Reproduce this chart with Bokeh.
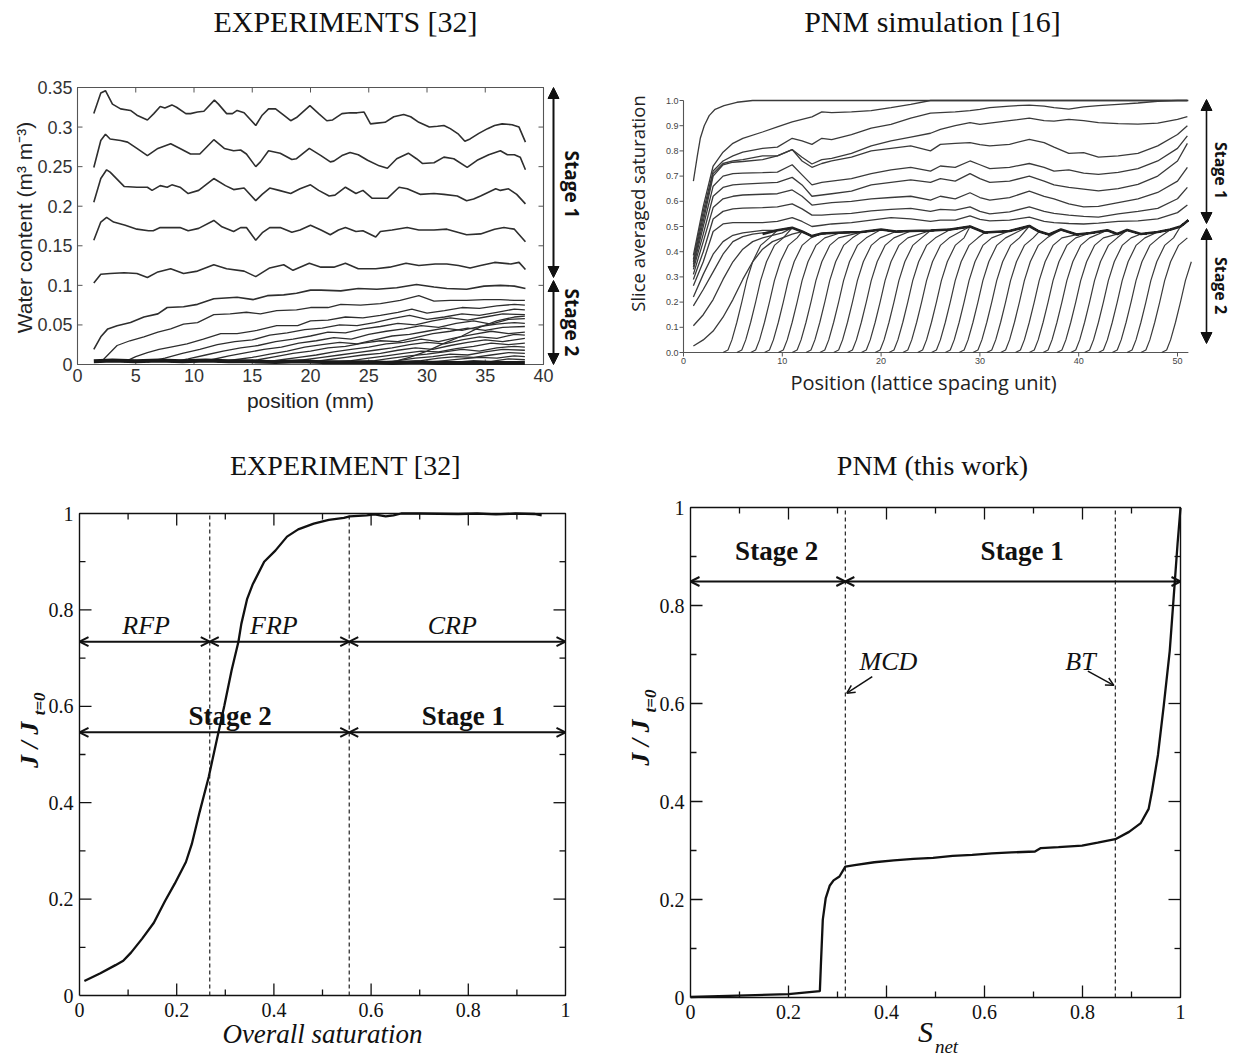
from math import pi
from bokeh.plotting import figure
from bokeh.models import Range1d, Arrow, NormalHead, OpenHead
from bokeh.core.properties import value
from bokeh.layouts import column, row
from bokeh.embed import file_html
from bokeh.resources import INLINE

# ======================= DATA =======================
# --- top-left: water content profiles (experiment) ---
TL_XTICKS = [0, 5, 10, 15, 20, 25, 30, 35, 40]
TL_YTICKS = [0, 0.05, 0.1, 0.15, 0.2, 0.25, 0.3, 0.35]

TL_A_X = [1.4, 2.0, 2.4, 3.0, 3.7, 4.55, 5.1, 6.0, 6.55, 7.1, 7.5, 8.1, 8.5, 9.3, 9.7, 10.3, 10.85, 11.75, 12.1, 12.8,
          13.3, 13.7, 14.3, 15.3, 15.85, 16.4, 17.0, 17.7, 18.3, 18.8, 19.95, 20.7, 21.4, 21.9, 22.7, 23.4, 24.0, 24.6, 25.15, 25.7,
          26.4, 27.15, 28.0, 28.6, 29.3, 30.2, 30.9, 31.45, 32.0, 32.7, 33.25, 33.7, 34.45, 35.2, 35.8, 36.45, 37.3, 37.9, 38.45]
TL_A_Y = [0.317, 0.343, 0.346, 0.329, 0.323, 0.321, 0.315, 0.309, 0.317, 0.326, 0.324, 0.328, 0.325, 0.317, 0.317, 0.319, 0.320, 0.334, 0.329, 0.317,
          0.317, 0.321, 0.318, 0.302, 0.315, 0.323, 0.323, 0.315, 0.308, 0.312, 0.327, 0.317, 0.308, 0.309, 0.317, 0.318, 0.318, 0.319, 0.304, 0.305,
          0.306, 0.313, 0.316, 0.313, 0.306, 0.300, 0.301, 0.302, 0.298, 0.291, 0.282, 0.285, 0.292, 0.298, 0.302, 0.304, 0.303, 0.300, 0.281]
TL_B_X = [1.4, 2.0, 2.4, 2.8, 3.7, 4.3, 5.1, 6.0, 6.9, 8.0, 8.8, 9.7, 10.5, 11.7, 12.6, 13.4, 14.0, 14.5, 15.3, 15.7,
          16.4, 17.4, 18.4, 18.8, 19.9, 20.9, 21.7, 22.0, 22.7, 23.4, 24.1, 24.9, 25.9, 26.6, 27.4, 28.4, 29.1, 29.6, 30.6, 31.45,
          32.3, 33.45, 34.3, 35.3, 36.3, 36.9, 37.5, 38.0, 38.45]
TL_B_Y = [0.249, 0.283, 0.291, 0.285, 0.283, 0.281, 0.273, 0.264, 0.273, 0.279, 0.273, 0.266, 0.266, 0.284, 0.273, 0.270, 0.271, 0.266, 0.250, 0.256,
          0.270, 0.267, 0.259, 0.260, 0.273, 0.264, 0.256, 0.257, 0.264, 0.268, 0.265, 0.258, 0.251, 0.248, 0.260, 0.267, 0.260, 0.254, 0.255, 0.262,
          0.260, 0.249, 0.258, 0.265, 0.270, 0.265, 0.265, 0.262, 0.246]
TL_C_X = [1.4, 2.0, 2.5, 2.8, 4.0, 5.1, 6.0, 6.4, 7.1, 7.7, 8.1, 8.8, 9.5, 10.4, 11.7, 12.7, 13.4, 14.3, 15.3, 15.85,
          16.5, 17.3, 18.3, 19.1, 20.0, 20.7, 21.6, 22.1, 23.0, 23.9, 24.5, 25.3, 26.6, 27.6, 28.3, 29.4, 30.6, 31.45, 32.6, 33.4,
          34.0, 34.6, 35.9, 36.3, 37.0, 37.7, 38.45]
TL_C_Y = [0.205, 0.235, 0.246, 0.243, 0.225, 0.224, 0.224, 0.220, 0.226, 0.224, 0.227, 0.224, 0.216, 0.220, 0.235, 0.226, 0.221, 0.223, 0.207, 0.215,
          0.223, 0.220, 0.216, 0.222, 0.227, 0.220, 0.213, 0.214, 0.224, 0.216, 0.220, 0.210, 0.210, 0.224, 0.222, 0.215, 0.216, 0.215, 0.213, 0.207,
          0.209, 0.213, 0.222, 0.220, 0.222, 0.215, 0.203]
TL_D_X = [1.4, 2.0, 2.5, 3.1, 4.1, 5.1, 6.1, 6.5, 7.1, 8.0, 8.8, 9.5, 10.4, 11.7, 12.4, 13.4, 14.0, 14.5, 15.3, 15.9,
          16.5, 17.4, 18.4, 19.1, 20.0, 20.9, 21.7, 22.4, 23.0, 23.9, 24.5, 25.6, 26.0, 27.0, 28.3, 29.3, 30.6, 31.7, 33.4, 34.6,
          35.8, 36.6, 37.5, 38.45]
TL_D_Y = [0.157, 0.180, 0.186, 0.180, 0.176, 0.171, 0.169, 0.169, 0.173, 0.173, 0.173, 0.169, 0.172, 0.182, 0.174, 0.168, 0.173, 0.173, 0.157, 0.167,
          0.173, 0.173, 0.167, 0.170, 0.176, 0.170, 0.164, 0.170, 0.173, 0.168, 0.169, 0.161, 0.168, 0.170, 0.173, 0.170, 0.170, 0.171, 0.164, 0.165,
          0.171, 0.173, 0.171, 0.155]
TL_E_X = [1.4, 2.0, 2.8, 4.0, 5.1, 6.0, 6.9, 8.0, 9.1, 10.3, 11.7, 12.8, 14.3, 15.3, 16.5, 17.7, 18.5, 19.9, 20.9, 22.0,
          23.0, 24.1, 25.6, 26.8, 28.2, 29.3, 30.7, 31.7, 32.7, 33.7, 34.6, 35.8, 37.2, 37.9, 38.45]
TL_E_Y = [0.103, 0.114, 0.115, 0.116, 0.115, 0.110, 0.117, 0.121, 0.115, 0.118, 0.126, 0.121, 0.118, 0.111, 0.122, 0.126, 0.119, 0.128, 0.123, 0.123,
          0.128, 0.121, 0.121, 0.123, 0.128, 0.125, 0.127, 0.127, 0.125, 0.122, 0.125, 0.129, 0.127, 0.129, 0.120]
TL_F_X = [1.4, 2.0, 2.6, 3.4, 4.55, 5.7, 6.9, 7.7, 9.1, 10.3, 11.7, 13.7, 15.1, 16.3, 17.7, 18.8, 20.0, 20.9, 22.6, 24.1,
          25.7, 27.4, 29.1, 30.6, 31.7, 33.4, 34.9, 36.3, 37.5, 38.45]
TL_F_Y = [0.019, 0.035, 0.045, 0.049, 0.053, 0.060, 0.064, 0.072, 0.073, 0.076, 0.083, 0.085, 0.082, 0.087, 0.088, 0.090, 0.094, 0.094, 0.093, 0.096,
          0.095, 0.097, 0.101, 0.098, 0.096, 0.095, 0.099, 0.100, 0.099, 0.096]

TL_L1_X = [2.0, 2.6, 3.4, 4.5, 5.7, 6.9, 8.0, 9.1, 10.3, 11.7, 13.1, 14.5, 15.7, 17.1, 18.8, 20.0, 21.5, 22.6, 24.3,
           26.0, 27.7, 29.3, 30.6, 32.0, 33.4, 34.9, 36.3, 37.5, 38.4]
TL_L1_Y = [0.003, 0.012, 0.024, 0.030, 0.035, 0.041, 0.045, 0.051, 0.053, 0.063, 0.064, 0.066, 0.064, 0.068, 0.069, 0.072, 0.072, 0.076, 0.075,
           0.077, 0.081, 0.087, 0.080, 0.081, 0.081, 0.082, 0.082, 0.081, 0.081]
TL_L2_X = [4.0, 5.0, 6.0, 7.0, 8.0, 9.4, 10.8, 12.3, 13.7, 15.4, 17.1, 18.9, 20.0, 21.5, 23.0, 24.5, 26.0, 27.5, 28.7, 30.0, 31.5, 33.0, 34.5, 36.0, 37.5, 38.4]
TL_L2_Y = [0.003, 0.010, 0.015, 0.019, 0.022, 0.026, 0.032, 0.039, 0.039, 0.043, 0.049, 0.049, 0.055, 0.056, 0.060, 0.059, 0.062, 0.066, 0.070, 0.065, 0.068, 0.072, 0.071, 0.074, 0.076, 0.075]
TL_L3_X = [6.0, 7.5, 9.0, 10.5, 12.0, 13.5, 15.0, 16.5, 18.0, 19.5, 21.0, 22.5, 24.0, 25.5, 27.0, 28.5, 30.0, 31.5, 33.0, 34.5, 36.0, 37.5, 38.4]
TL_L3_Y = [0.003, 0.008, 0.014, 0.019, 0.025, 0.029, 0.031, 0.037, 0.040, 0.044, 0.046, 0.050, 0.049, 0.053, 0.058, 0.062, 0.057, 0.060, 0.064, 0.062, 0.066, 0.070, 0.069]
TL_L4_X = [8.0, 9.5, 11.0, 12.5, 14.0, 15.5, 17.0, 18.5, 20.0, 21.5, 23.0, 24.5, 26.0, 27.5, 29.0, 30.5, 32.0, 33.5, 35.0, 36.5, 38.4]
TL_L4_Y = [0.003, 0.007, 0.012, 0.017, 0.021, 0.024, 0.029, 0.032, 0.036, 0.041, 0.040, 0.045, 0.048, 0.052, 0.050, 0.055, 0.059, 0.056, 0.060, 0.064, 0.063]
TL_L5_X = [10.0, 11.5, 13.0, 14.5, 16.0, 17.5, 19.0, 20.5, 22.0, 23.5, 25.0, 26.5, 28.0, 29.5, 31.0, 32.5, 34.0, 35.5, 37.0, 38.4]
TL_L5_Y = [0.003, 0.006, 0.011, 0.015, 0.019, 0.022, 0.027, 0.030, 0.034, 0.032, 0.038, 0.042, 0.045, 0.049, 0.047, 0.052, 0.055, 0.051, 0.057, 0.058]
TL_L6_X = [12.0, 13.5, 15.0, 16.5, 18.0, 19.5, 21.0, 22.5, 24.0, 25.5, 27.0, 28.5, 30.0, 31.5, 33.0, 34.5, 36.0, 37.5, 38.4]
TL_L6_Y = [0.003, 0.006, 0.009, 0.013, 0.017, 0.022, 0.025, 0.028, 0.026, 0.031, 0.036, 0.038, 0.042, 0.046, 0.043, 0.048, 0.051, 0.053, 0.052]
TL_L7_X = [14.0, 15.5, 17.0, 18.5, 20.0, 21.5, 23.0, 24.5, 26.0, 27.5, 29.0, 30.5, 32.0, 33.5, 35.0, 36.5, 38.4]
TL_L7_Y = [0.003, 0.006, 0.010, 0.014, 0.017, 0.021, 0.023, 0.027, 0.030, 0.029, 0.034, 0.039, 0.042, 0.046, 0.043, 0.047, 0.048]
TL_L8_X = [16.0, 17.5, 19.0, 20.5, 22.0, 23.5, 25.0, 26.5, 28.0, 29.5, 31.0, 32.5, 34.0, 35.5, 37.0, 38.4]
TL_L8_Y = [0.003, 0.006, 0.009, 0.012, 0.016, 0.019, 0.022, 0.026, 0.028, 0.032, 0.029, 0.034, 0.038, 0.042, 0.039, 0.041]
TL_L9_X = [18.0, 19.5, 21.0, 22.5, 24.0, 25.5, 27.0, 28.5, 30.0, 31.5, 33.0, 34.5, 36.0, 37.5, 38.4]
TL_L9_Y = [0.003, 0.006, 0.009, 0.012, 0.015, 0.018, 0.021, 0.025, 0.028, 0.026, 0.031, 0.035, 0.033, 0.038, 0.037]
TL_L10_X = [20.0, 21.5, 23.0, 24.5, 26.0, 27.5, 29.0, 30.5, 32.0, 33.5, 35.0, 36.5, 38.4]
TL_L10_Y = [0.003, 0.006, 0.009, 0.012, 0.014, 0.018, 0.021, 0.019, 0.024, 0.028, 0.031, 0.029, 0.033]
TL_L11_X = [22.0, 23.5, 25.0, 26.5, 28.0, 29.5, 31.0, 32.5, 34.0, 35.5, 37.0, 38.4]
TL_L11_Y = [0.003, 0.005, 0.008, 0.011, 0.014, 0.017, 0.016, 0.020, 0.023, 0.027, 0.025, 0.027]
TL_L12_X = [24.0, 25.5, 27.0, 28.5, 30.0, 31.5, 33.0, 34.5, 36.0, 37.5, 38.4]
TL_L12_Y = [0.003, 0.005, 0.008, 0.011, 0.013, 0.016, 0.019, 0.017, 0.021, 0.023, 0.022]
TL_L13_X = [26.0, 27.5, 29.0, 30.5, 32.0, 33.5, 35.0, 36.5, 38.4]
TL_L13_Y = [0.003, 0.005, 0.008, 0.010, 0.013, 0.012, 0.016, 0.019, 0.018]
TL_L14_X = [28.0, 29.5, 31.0, 32.5, 34.0, 35.5, 37.0, 38.4]
TL_L14_Y = [0.003, 0.005, 0.008, 0.010, 0.009, 0.012, 0.015, 0.014]
TL_L15_X = [30.0, 31.5, 33.0, 34.5, 36.0, 37.5, 38.4]
TL_L15_Y = [0.003, 0.005, 0.007, 0.009, 0.008, 0.011, 0.010]
TL_L16_X = [32.5, 34.0, 35.5, 37.0, 38.4]
TL_L16_Y = [0.003, 0.005, 0.004, 0.007, 0.006]
TL_L17_X = [27.0, 28.5, 30.0, 31.5, 33.0, 34.5, 36.0, 37.5, 38.4]
TL_L17_Y = [0.003, 0.009, 0.017, 0.027, 0.036, 0.047, 0.055, 0.060, 0.061]

TL_ZERO_X = [1.4, 3.0, 5.0, 7.0, 9.0, 11.0, 13.0, 15.0, 17.0, 19.0, 21.0, 23.0, 25.0, 27.0, 29.0, 31.0, 33.0, 35.0, 37.0, 38.4]
TL_ZERO_Y = [0.004, 0.005, 0.004, 0.005, 0.004, 0.005, 0.004, 0.004, 0.003, 0.004, 0.003, 0.003, 0.003, 0.002, 0.003, 0.002, 0.002, 0.002, 0.002, 0.002]

# --- top-right: slice averaged saturation profiles (PNM simulation) ---
TR_XTICKS = [0, 10, 20, 30, 40, 50]
TR_YTICKS = [0.0, 0.1, 0.2, 0.3, 0.4, 0.5, 0.6, 0.7, 0.8, 0.9, 1.0]
TR_XMAX = 51.1

TR_U1_X = [1, 1.4, 1.7, 2.1, 2.6, 3.2, 4.1, 5.4, 7.0, 51.1]
TR_U1_Y = [0.68, 0.78, 0.85, 0.90, 0.94, 0.965, 0.98, 0.993, 1.0, 1.0]

TR_XU = [1, 2, 3, 4, 5, 6, 8, 9.5, 11, 12, 13, 14, 15, 17, 19, 21, 23, 25, 26, 27.5,
         29, 30, 31, 33, 35, 36.5, 37.5, 39, 40.5, 42, 44, 46, 48, 50, 51]
TR_U2 = [0.385, 0.58, 0.74, 0.795, 0.83, 0.85, 0.875, 0.895, 0.915, 0.925, 0.935, 0.955, 0.952, 0.955, 0.96, 0.972, 0.985, 1.0, 1.0, 1.0,
         1.0, 1.0, 1.0, 1.0, 1.0, 1.0, 1.0, 1.0, 1.0, 1.0, 1.0, 1.0, 1.0, 1.0, 1.0]
TR_U3 = [0.37, 0.56, 0.72, 0.76, 0.78, 0.795, 0.81, 0.815, 0.85, 0.84, 0.826, 0.85, 0.845, 0.865, 0.89, 0.905, 0.93, 0.95, 0.952, 0.955,
         0.96, 0.965, 0.972, 0.978, 0.982, 0.978, 0.972, 0.966, 0.975, 0.98, 0.985, 0.99, 0.997, 1.0, 1.0]
TR_U4 = [0.36, 0.54, 0.71, 0.75, 0.76, 0.765, 0.78, 0.78, 0.805, 0.775, 0.748, 0.765, 0.77, 0.79, 0.82, 0.84, 0.855, 0.87, 0.885, 0.9,
         0.912, 0.905, 0.91, 0.92, 0.93, 0.92, 0.918, 0.925, 0.92, 0.912, 0.908, 0.906, 0.91, 0.925, 0.936]
TR_U5 = [0.35, 0.52, 0.70, 0.745, 0.755, 0.758, 0.765, 0.78, 0.805, 0.76, 0.735, 0.75, 0.76, 0.775, 0.80, 0.81, 0.82, 0.80, 0.826, 0.83,
         0.833, 0.825, 0.82, 0.826, 0.846, 0.833, 0.815, 0.79, 0.793, 0.775, 0.78, 0.79, 0.82, 0.865, 0.90]
TR_U6 = [0.34, 0.50, 0.66, 0.70, 0.71, 0.712, 0.714, 0.716, 0.745, 0.705, 0.665, 0.675, 0.68, 0.69, 0.71, 0.725, 0.735, 0.72, 0.74, 0.735,
         0.76, 0.745, 0.73, 0.735, 0.75, 0.735, 0.72, 0.725, 0.712, 0.707, 0.715, 0.73, 0.76, 0.81, 0.86]
TR_U7 = [0.33, 0.47, 0.62, 0.655, 0.665, 0.668, 0.672, 0.675, 0.695, 0.665, 0.62, 0.625, 0.63, 0.64, 0.665, 0.675, 0.685, 0.675, 0.69, 0.68,
         0.71, 0.69, 0.675, 0.68, 0.70, 0.68, 0.665, 0.655, 0.648, 0.641, 0.65, 0.667, 0.70, 0.76, 0.83]
TR_U8 = [0.31, 0.44, 0.575, 0.61, 0.62, 0.625, 0.628, 0.63, 0.645, 0.62, 0.585, 0.59, 0.595, 0.60, 0.61, 0.615, 0.62, 0.605, 0.62, 0.61,
         0.634, 0.615, 0.605, 0.615, 0.64, 0.62, 0.61, 0.59, 0.578, 0.58, 0.595, 0.61, 0.635, 0.68, 0.735]
TR_U9 = [0.29, 0.40, 0.53, 0.56, 0.57, 0.573, 0.575, 0.578, 0.59, 0.57, 0.545, 0.545, 0.548, 0.552, 0.562, 0.568, 0.572, 0.56, 0.568, 0.565,
         0.578, 0.56, 0.55, 0.558, 0.578, 0.56, 0.552, 0.545, 0.54, 0.537, 0.55, 0.56, 0.572, 0.61, 0.655]
TR_U10 = [0.265, 0.36, 0.48, 0.51, 0.515, 0.515, 0.515, 0.52, 0.535, 0.52, 0.50, 0.505, 0.51, 0.515, 0.525, 0.535, 0.53, 0.52, 0.525, 0.525,
          0.542, 0.528, 0.522, 0.525, 0.537, 0.52, 0.515, 0.512, 0.51, 0.513, 0.52, 0.522, 0.53, 0.555, 0.585]

TR_U11_X = [1, 2, 3, 4, 5, 6, 7, 8]
TR_U11_Y = [0.22, 0.31, 0.39, 0.44, 0.465, 0.475, 0.48, 0.485]
TR_U12_X = [1, 2, 3, 4, 5, 6, 7, 8, 9]
TR_U12_Y = [0.185, 0.25, 0.32, 0.39, 0.44, 0.46, 0.47, 0.475, 0.48]
TR_U13_X = [1, 2, 3, 4, 5, 6, 7, 8, 9, 10]
TR_U13_Y = [0.106, 0.15, 0.21, 0.29, 0.36, 0.41, 0.44, 0.455, 0.465, 0.475]
TR_U14_X = [1, 2, 3, 4, 5, 6, 7, 8, 9, 10, 11]
TR_U14_Y = [0.026, 0.05, 0.085, 0.14, 0.21, 0.29, 0.36, 0.41, 0.44, 0.455, 0.47]

TR_BAND_X = [8, 9.5, 11, 12, 13, 14, 16, 18, 20, 21.5, 23, 25, 27, 29, 30.5, 33, 35, 36, 37, 38.2,
             39.8, 41.2, 42.9, 43.9, 44.9, 46.3, 48, 49.3, 50.3, 51.1]
TR_BAND_Y = [0.47, 0.485, 0.495, 0.48, 0.462, 0.472, 0.476, 0.478, 0.488, 0.48, 0.482, 0.484, 0.488, 0.5, 0.476, 0.482, 0.502, 0.48, 0.468, 0.488,
             0.468, 0.474, 0.485, 0.47, 0.486, 0.47, 0.478, 0.488, 0.5, 0.525]

TR_FRONT_AT = [5.9, 7.3, 8.7, 10.1, 11.5, 12.9, 14.3, 15.7, 17.1, 18.5, 19.9, 21.3, 22.7, 24.1, 25.6, 27.0,
               28.4, 29.8, 31.2, 32.6, 34.0, 35.5, 36.9, 38.3, 39.7, 41.1, 42.5, 43.9, 45.3, 46.8, 48.2, 50.3]
TR_RISE_DX = [-1.9, -1.4, -1.0, -0.5, 0.0, 0.5, 1.1, 1.9, 2.8]
TR_RISE_Y = [0.0, 0.01, 0.05, 0.12, 0.2, 0.285, 0.36, 0.425, 0.455]

# --- bottom-left: J/J0 vs overall saturation (experiment) ---
BL_X = [0.010, 0.043, 0.074, 0.090, 0.106, 0.129, 0.153, 0.176, 0.196, 0.219, 0.231, 0.247, 0.266, 0.282, 0.298, 0.313, 0.327, 0.333, 0.345, 0.356,
        0.380, 0.403, 0.427, 0.450, 0.482, 0.513, 0.544, 0.556, 0.591, 0.607, 0.630, 0.646, 0.662, 0.701, 0.779, 0.818, 0.857, 0.897, 0.936, 0.951]
BL_Y = [0.030, 0.046, 0.063, 0.072, 0.089, 0.118, 0.151, 0.196, 0.232, 0.277, 0.314, 0.380, 0.454, 0.528, 0.601, 0.675, 0.734, 0.771, 0.823, 0.852,
        0.900, 0.923, 0.952, 0.967, 0.979, 0.987, 0.991, 0.994, 0.996, 0.998, 0.994, 0.996, 1.0, 1.0, 0.999, 1.0, 0.998, 1.0, 0.999, 0.996]
BL_DASH = [0.268, 0.555]
BL_PERIODS = ["RFP", "FRP", "CRP"]
BL_PERIOD_EDGES = [0.0, 0.268, 0.555, 1.0]
BL_PERIOD_LABEL_X = [0.137, 0.40, 0.767]
BL_STAGES = ["Stage 2", "Stage 1"]
BL_STAGE_EDGES = [0.0, 0.555, 1.0]
BL_STAGE_LABEL_X = [0.31, 0.79]

# --- bottom-right: J/J0 vs S_net (PNM this work) ---
BR_X = [0.0, 0.096, 0.2, 0.264, 0.266, 0.270, 0.276, 0.284, 0.292, 0.304, 0.316, 0.335, 0.375, 0.415, 0.455, 0.495, 0.535, 0.575, 0.615, 0.655,
        0.703, 0.715, 0.751, 0.799, 0.831, 0.867, 0.895, 0.919, 0.935, 0.942, 0.954, 0.966, 0.978, 0.986, 0.994, 1.0]
BR_Y = [0.001, 0.004, 0.007, 0.013, 0.064, 0.159, 0.203, 0.228, 0.239, 0.247, 0.267, 0.270, 0.276, 0.280, 0.283, 0.285, 0.289, 0.291, 0.294, 0.296,
        0.298, 0.305, 0.307, 0.310, 0.316, 0.323, 0.338, 0.356, 0.385, 0.422, 0.495, 0.597, 0.707, 0.816, 0.926, 0.999]
BR_DASH = [0.316, 0.867]
BR_STAGES = ["Stage 2", "Stage 1"]
BR_STAGE_EDGES = [0.0, 0.316, 1.0]
BR_STAGE_LABEL_X = [0.176, 0.677]

B_TICKS = [0, 0.2, 0.4, 0.6, 0.8, 1.0]
B_MINOR = [0.1, 0.3, 0.5, 0.7, 0.9]

SERIF = "Liberation Serif"
SANS = "Liberation Sans"
CAL = "Open Sans"


# ======================= HELPERS =======================
class Panel:
    """A figure whose frame is the whole canvas; (fl, fr, ft, fb) are the pixel
    positions inside the canvas where the data box xr x yr is drawn."""

    def __init__(self, w, h, fl, fr, ft, fb, xr, yr):
        self.sx = (xr[1] - xr[0]) / (fr - fl)
        self.sy = (yr[1] - yr[0]) / (fb - ft)
        self.x0 = xr[0] - fl * self.sx
        x1 = xr[1] + (w - fr) * self.sx
        y0 = yr[0] - (h - fb) * self.sy
        self.y1 = yr[1] + ft * self.sy
        p = figure(width=w, height=h, x_range=Range1d(self.x0, x1), y_range=Range1d(y0, self.y1),
                   title=None, x_axis_type=None, y_axis_type=None, output_backend="svg",
                   toolbar_location=None, min_border=0, outline_line_color=None)
        p.background_fill_color = "white"
        p.border_fill_color = "white"
        p.grid.visible = False
        self.p = p

    def X(self, px):
        return self.x0 + px * self.sx

    def Y(self, py):
        return self.y1 - py * self.sy

    def text(self, xs, ys, texts, font, size, style="normal", align="center", baseline="middle",
             angle=0.0, color="#111"):
        self.p.text(x=xs, y=ys, text=texts, text_font=value(font), text_font_size=value(size),
                    text_font_style=value(style), text_align=value(align), text_baseline=value(baseline),
                    angle=angle, text_color=color)

    def xticks(self, ticks, y, length_px, color, width):
        n = len(ticks)
        self.p.segment(x0=ticks, y0=[y] * n, x1=ticks, y1=[y + length_px * self.sy] * n,
                       line_color=color, line_width=width)

    def yticks(self, ticks, x, length_px, color, width):
        n = len(ticks)
        self.p.segment(x0=[x] * n, y0=ticks, x1=[x + length_px * self.sx] * n, y1=ticks,
                       line_color=color, line_width=width)


def trim(v):
    s = f"{v:.3f}".rstrip("0").rstrip(".")
    return s if s else "0"


# ======================= TOP-LEFT =======================
A = Panel(616, 445, 77, 543, 87, 364, (0, 40), (0, 0.35))
pA = A.p
box_c = "#555"
pA.line([0, 40, 40, 0, 0], [0, 0, 0.35, 0.35, 0], line_color=box_c, line_width=1.1)
A.xticks(TL_XTICKS, 0, 5, box_c, 1)
A.xticks(TL_XTICKS, 0.35, -5, box_c, 1)
A.yticks(TL_YTICKS, 0, 5, box_c, 1)
A.yticks(TL_YTICKS, 40, -5, box_c, 1)
A.text(TL_XTICKS, [A.Y(368)] * len(TL_XTICKS), [trim(v) for v in TL_XTICKS], SANS, "18px",
       baseline="top", color="#333")
A.text([A.X(72)] * len(TL_YTICKS), TL_YTICKS, [trim(v) for v in TL_YTICKS], SANS, "18px",
       align="right", color="#333")
A.text([A.X(310)], [A.Y(400)], ["position (mm)"], SANS, "21px", color="#222")
A.text([A.X(24)], [A.Y(227)], ["Water content (m\u00b3 m\u207b\u00b3)"], SANS, "21px", angle=pi / 2, color="#222")

upper_tl = [(TL_A_X, TL_A_Y), (TL_B_X, TL_B_Y), (TL_C_X, TL_C_Y), (TL_D_X, TL_D_Y), (TL_E_X, TL_E_Y), (TL_F_X, TL_F_Y)]
lower_tl = [(TL_L1_X, TL_L1_Y), (TL_L2_X, TL_L2_Y), (TL_L3_X, TL_L3_Y), (TL_L4_X, TL_L4_Y), (TL_L5_X, TL_L5_Y),
            (TL_L6_X, TL_L6_Y), (TL_L7_X, TL_L7_Y), (TL_L8_X, TL_L8_Y), (TL_L9_X, TL_L9_Y), (TL_L10_X, TL_L10_Y),
            (TL_L11_X, TL_L11_Y), (TL_L12_X, TL_L12_Y), (TL_L13_X, TL_L13_Y), (TL_L14_X, TL_L14_Y),
            (TL_L15_X, TL_L15_Y), (TL_L16_X, TL_L16_Y), (TL_L17_X, TL_L17_Y)]
for xs, ys in upper_tl:
    pA.line(xs, ys, line_color="#2e2e2e", line_width=1.6)
for xs, ys in lower_tl:
    pA.line(xs, ys, line_color="#2e2e2e", line_width=1.3)
pA.line(TL_ZERO_X, TL_ZERO_Y, line_color="#1a1a1a", line_width=4)

head = dict(size=11, fill_color="#111", line_color="#111")
ax_x = A.X(553)
pA.add_layout(Arrow(start=NormalHead(**head), end=NormalHead(**head), x_start=ax_x, y_start=A.Y(87),
                    x_end=ax_x, y_end=A.Y(277), line_width=2, line_color="#111"))
pA.add_layout(Arrow(start=NormalHead(**head), end=NormalHead(**head), x_start=ax_x, y_start=A.Y(280),
                    x_end=ax_x, y_end=A.Y(364), line_width=2, line_color="#111"))
A.text([A.X(571), A.X(571)], [A.Y(184), A.Y(322)], ["Stage 1", "Stage 2"], CAL, "19px", "bold", angle=-pi / 2)
A.text([A.X(345)], [A.Y(21)], ["EXPERIMENTS [32]"], SERIF, "30px")

# ======================= TOP-RIGHT =======================
B = Panel(617, 445, 67, 561, 100, 352, (0, 50), (0, 1.0))
pB = B.p
ax_c = "#555"
pB.line([0, 0, TR_XMAX], [1.0, 0, 0], line_color=ax_c, line_width=1.1)
B.xticks(TR_XTICKS, 0, -4, ax_c, 1)
B.yticks(TR_YTICKS, 0, -4, ax_c, 1)
B.text(TR_XTICKS, [B.Y(357)] * len(TR_XTICKS), [trim(v) for v in TR_XTICKS], SANS, "9px",
       baseline="top", color="#444")
B.text([B.X(62)] * len(TR_YTICKS), TR_YTICKS, [f"{v:.1f}" for v in TR_YTICKS], SANS, "9px",
       align="right", color="#444")
B.text([B.X(307)], [B.Y(382)], ["Position (lattice spacing unit)"], CAL, "20px", color="#222")
B.text([B.X(21)], [B.Y(203)], ["Slice averaged saturation"], CAL, "18.5px", angle=pi / 2, color="#222")

lc = "#3a3a3a"
pB.line(TR_U1_X, TR_U1_Y, line_color=lc, line_width=1.3)
for ys in [TR_U2, TR_U3, TR_U4, TR_U5, TR_U6, TR_U7, TR_U8, TR_U9, TR_U10]:
    pB.line(TR_XU, ys, line_color=lc, line_width=1.3)


def with_band(xs, ys):
    xs, ys = list(xs), list(ys)
    last = xs[-1]
    for bx, by in zip(TR_BAND_X, TR_BAND_Y):
        if bx > last + 0.4:
            xs.append(bx)
            ys.append(by)
    return xs, ys


for xs, ys in [(TR_U11_X, TR_U11_Y), (TR_U12_X, TR_U12_Y), (TR_U13_X, TR_U13_Y), (TR_U14_X, TR_U14_Y)]:
    bx, by = with_band(xs, ys)
    pB.line(bx, by, line_color=lc, line_width=1.3)
for c in TR_FRONT_AT:
    fx = [c + d for d in TR_RISE_DX]
    fxx, fyy = with_band(fx, TR_RISE_Y)
    keep = [(a, b) for a, b in zip(fxx, fyy) if a <= TR_XMAX + 0.5]
    pB.line([a for a, _ in keep], [b for _, b in keep], line_color=lc, line_width=1.2)
pB.line(TR_BAND_X, TR_BAND_Y, line_color="#222", line_width=2.6)

bx_x = B.X(590)
pB.add_layout(Arrow(start=NormalHead(**head), end=NormalHead(**head), x_start=bx_x, y_start=B.Y(99),
                    x_end=bx_x, y_end=B.Y(223), line_width=1.6, line_color="#111"))
pB.add_layout(Arrow(start=NormalHead(**head), end=NormalHead(**head), x_start=bx_x, y_start=B.Y(228),
                    x_end=bx_x, y_end=B.Y(343), line_width=1.6, line_color="#111"))
B.text([B.X(604), B.X(604)], [B.Y(170), B.Y(285)], ["Stage 1", "Stage 2"], CAL, "16px", "bold", angle=-pi / 2)
B.text([B.X(316)], [B.Y(21)], ["PNM simulation [16]"], SERIF, "30px")


# ======================= BOTTOM ROW =======================
def bottom_panel(w, fl, fr, ft, fb):
    P = Panel(w, 612, fl, fr, ft, fb, (0, 1), (0, 1))
    p = P.p
    p.line([0, 1, 1, 0, 0], [0, 0, 1, 1, 0], line_color="#111", line_width=1.4)
    for side_y, sgn in [(0, 1), (1, -1)]:
        P.xticks(B_TICKS[1:-1], side_y, 12 * sgn, "#111", 1.3)
        P.xticks(B_MINOR, side_y, 6 * sgn, "#111", 1.3)
    for side_x, sgn in [(0, 1), (1, -1)]:
        P.yticks(B_TICKS[1:-1], side_x, 12 * sgn, "#111", 1.3)
        P.yticks(B_MINOR, side_x, 6 * sgn, "#111", 1.3)
    P.text(B_TICKS, [P.Y(fb + 7)] * len(B_TICKS), [trim(v) for v in B_TICKS], SERIF, "20px",
           baseline="top")
    P.text([P.X(fl - 6)] * len(B_TICKS), B_TICKS, [trim(v) for v in B_TICKS], SERIF, "20px",
           align="right")
    P.text([P.X(fl - 50)], [P.Y(fb - 0.52 * (fb - ft))], ["J / J"], SERIF, "26px", "bold italic", angle=pi / 2)
    P.text([P.X(fl - 40)], [P.Y(fb - 0.605 * (fb - ft))], ["t=0"], SERIF, "17px", "bold italic", angle=pi / 2)
    return P


ohead = dict(size=9, line_color="#111", line_width=2)

# ---- bottom-left
C = bottom_panel(616, 79, 565, 68, 550)
pC = C.p
n = len(BL_DASH)
pC.segment(x0=BL_DASH, y0=[0] * n, x1=BL_DASH, y1=[1] * n, line_dash="4 3", line_width=1.2, line_color="#222")
pC.line(BL_X, BL_Y, line_color="#111", line_width=2.3)
for i in range(len(BL_PERIODS)):
    pC.add_layout(Arrow(start=OpenHead(**ohead), end=OpenHead(**ohead), x_start=BL_PERIOD_EDGES[i], y_start=0.734,
                        x_end=BL_PERIOD_EDGES[i + 1], y_end=0.734, line_width=2, line_color="#111"))
C.text(BL_PERIOD_LABEL_X, [0.767] * 3, BL_PERIODS, SERIF, "26px", "italic")
for i in range(len(BL_STAGES)):
    pC.add_layout(Arrow(start=OpenHead(**ohead), end=OpenHead(**ohead), x_start=BL_STAGE_EDGES[i], y_start=0.546,
                        x_end=BL_STAGE_EDGES[i + 1], y_end=0.546, line_width=2, line_color="#111"))
C.text(BL_STAGE_LABEL_X, [0.58] * 2, BL_STAGES, SERIF, "27px", "bold")
C.text([C.X(322)], [C.Y(588)], ["Overall saturation"], SERIF, "27px", "italic")
C.text([C.X(345)], [C.Y(20)], ["EXPERIMENT [32]"], SERIF, "28px")

# ---- bottom-right
D = bottom_panel(617, 74, 564, 62, 552)
pD = D.p
n = len(BR_DASH)
pD.segment(x0=BR_DASH, y0=[0] * n, x1=BR_DASH, y1=[1] * n, line_dash="4 3", line_width=1.2, line_color="#222")
pD.line(BR_X, BR_Y, line_color="#111", line_width=2.3)
for i in range(len(BR_STAGES)):
    pD.add_layout(Arrow(start=OpenHead(**ohead), end=OpenHead(**ohead), x_start=BR_STAGE_EDGES[i], y_start=0.849,
                        x_end=BR_STAGE_EDGES[i + 1], y_end=0.849, line_width=2, line_color="#111"))
D.text(BR_STAGE_LABEL_X, [0.911] * 2, BR_STAGES, SERIF, "27px", "bold")
D.text([0.404, 0.796], [0.686, 0.686], ["MCD", "BT"], SERIF, "26px", "italic")
pD.add_layout(Arrow(end=OpenHead(size=8, line_color="#111", line_width=1.5), x_start=0.371, y_start=0.655,
                    x_end=0.319, y_end=0.621, line_width=1.5, line_color="#111"))
pD.add_layout(Arrow(end=OpenHead(size=8, line_color="#111", line_width=1.5), x_start=0.811, y_start=0.666,
                    x_end=0.864, y_end=0.637, line_width=1.5, line_color="#111"))
D.text([D.X(309)], [D.Y(586)], ["S"], SERIF, "30px", "italic")
D.text([D.X(330)], [D.Y(601)], ["net"], SERIF, "19px", "italic")
D.text([D.X(316)], [D.Y(20)], ["PNM (this work)"], SERIF, "28px")

layout = column(row(pA, pB), row(pC, pD))
open("out.html", "w").write(file_html(layout, INLINE))
